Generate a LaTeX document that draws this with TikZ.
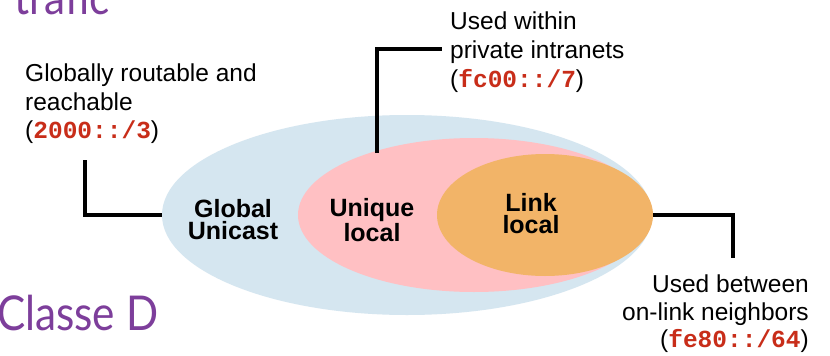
\documentclass[tikz,border=0pt]{standalone}
\usepackage{fontspec}
\setmainfont{Liberation Sans}
\newfontfamily\codefont{Liberation Mono}
\newfontfamily\titlefont[FakeStretch=0.88]{Lato}
\usetikzlibrary{shapes.geometric}

\definecolor{globalblue}{RGB}{213,230,240}
\definecolor{uniquepink}{RGB}{255,192,195}
\definecolor{linkorange}{RGB}{242,180,104}
\definecolor{codered}{RGB}{200,45,25}
\definecolor{titlepurple}{RGB}{125,62,155}

\newcommand\addr[1]{{\codefont\bfseries\color{codered}#1}}

\begin{document}
\begin{tikzpicture}[x=1pt,y=-1pt,
  zone/.style={ellipse, inner sep=0, draw=none},
  note/.style={font=\fontsize{24.5}{29}\selectfont, inner sep=0, text=black},
  tag/.style={font=\fontsize{25}{22}\selectfont\bfseries, align=center, inner sep=0},
  leader/.style={line width=3.6pt, black},
  heading/.style={font=\titlefont\fontsize{48}{48}\selectfont, text=titlepurple, inner sep=0}]

\useasboundingbox[fill=white] (0,0) rectangle (830,356);
\clip (0,0) rectangle (830,356);

% nested address scopes
\node[zone, fill=globalblue, minimum width=490pt, minimum height=200pt] (global) at (407,215) {};
\node[zone, fill=uniquepink, minimum width=352pt, minimum height=154pt] (unique) at (474,215) {};
\node[zone, fill=linkorange, minimum width=216pt, minimum height=122pt] (link) at (545,215) {};

\node[tag] (globaltag) at (233,220) {Global\\Unicast};
\node[tag] (uniquetag) at (372,220) {Unique\\local};
\node[tag] (linktag) at (531,214) {Link\\local};

% slide headings around the figure
\node[heading, anchor=base west] (trafic) at (14,14) {trafic};
\node[heading, anchor=base west] (classed) at (-3,330) {Classe D};

% left callout
\node[note, anchor=base west] (g1) at (25,81) {Globally routable and};
\node[note, anchor=base west] (g2) at (25,110) {reachable};
\node[note, anchor=base west] (g3) at (25,138) {(\addr{2000::/3})};
\coordinate (gstart) at (85,160);
\draw[leader] (gstart) |- (global.west);

% top callout
\node[note, anchor=base west] (u1) at (450,29) {Used within};
\node[note, anchor=base west] (u2) at (450,58) {private intranets};
\node[note, anchor=base west] (u3) at (450,87) {(\addr{fc00::/7})};
\coordinate (ustart) at (377,153);
\coordinate (uend) at (442,49);
\draw[leader] (ustart) |- (uend);

% right callout
\node[note, anchor=base east] (l1) at (809,292) {Used between};
\node[note, anchor=base east] (l2) at (809,320) {on-link neighbors};
\node[note, anchor=base east] (l3) at (809,347) {(\addr{fe80::/64})};
\coordinate (lend) at (733,258);
\draw[leader] (link.east) -| (lend);
\end{tikzpicture}
\end{document}
